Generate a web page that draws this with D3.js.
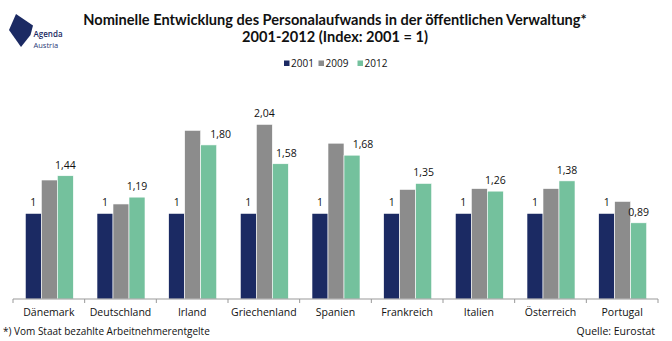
<!DOCTYPE html>
<html>
<head>
<meta charset="utf-8">
<script src="https://cdn.jsdelivr.net/npm/d3@7"></script>
<style>
  html, body { margin: 0; padding: 0; background: #fff; }
  svg { display: block; font-family: "Open Sans", sans-serif; }
</style>
</head>
<body>
<svg id="chart" width="672" height="341"></svg>
<script>
// ---- data ----
const categories = ["Dänemark", "Deutschland", "Irland", "Griechenland", "Spanien", "Frankreich", "Italien", "Österreich", "Portugal"];
const seriesNames = ["2001", "2009", "2012"];
const values2001 = [1, 1, 1, 1, 1, 1, 1, 1, 1];
const values2009 = [1.39, 1.11, 1.97, 2.04, 1.82, 1.28, 1.29, 1.29, 1.14];
const values2012 = [1.44, 1.19, 1.80, 1.58, 1.68, 1.35, 1.26, 1.38, 0.89];
// which values carry a data label (as in the original)
const label2001 = [true, true, true, true, true, true, true, true, true];
const label2009 = [false, false, false, true, false, false, false, false, false];
const label2012 = [true, true, true, true, true, true, true, true, true];

// ---- style ----
const colors = ["#1b2a63", "#8c8c8c", "#74c19d"];
const labelNudge = { "Irland|2012": 12, "Griechenland|2012": 6, "Spanien|2012": 11 };

const svg = d3.select("#chart");
const W = 672, H = 341;
const margin = { left: 13, right: 14 };
const baseY = 299;

const x0 = d3.scaleBand().domain(categories).range([margin.left, W - margin.right]).paddingInner(0).paddingOuter(0);
const groupW = 48;
const x1 = d3.scaleBand().domain(seriesNames).range([0, groupW]).padding(0);
const y = d3.scaleLinear().domain([0, 1]).range([baseY, 213.4]);

const seriesVals = [values2001, values2009, values2012];
const seriesLabels = [label2001, label2009, label2012];
const rows = [];
categories.forEach((c, i) => {
  seriesNames.forEach((s, j) => {
    rows.push({ cat: c, series: s, j, value: seriesVals[j][i], label: seriesLabels[j][i] });
  });
});

// ---- logo ----
const logo = svg.append("g");
logo.append("path")
  .attr("d", "M16,14 L33,25.5 L30.5,35 L21,47 L9,30 Z")
  .attr("fill", "#1b2a63");
logo.append("text").attr("x", 33.5).attr("y", 37).attr("font-size", 8).attr("font-weight", 600).attr("fill", "#1b2a63").text("Agenda");
logo.append("text").attr("x", 33.5).attr("y", 47.5).attr("font-size", 7.5).attr("fill", "#2a3a78").text("Austria");

// ---- title ----
svg.append("text").attr("x", 335).attr("y", 24.5).attr("text-anchor", "middle")
  .attr("font-family", "Lato, sans-serif")
  .attr("font-size", 14.6).attr("font-weight", 700).attr("fill", "#111")
  .text("Nominelle Entwicklung des Personalaufwands in der öffentlichen Verwaltung*");
svg.append("text").attr("x", 335).attr("y", 42.3).attr("text-anchor", "middle")
  .attr("font-family", "Lato, sans-serif")
  .attr("font-size", 14.6).attr("font-weight", 700).attr("fill", "#111")
  .text("2001-2012 (Index: 2001 = 1)");

// ---- legend ----
const legendX = [284, 318.5, 357.5];
const legend = svg.append("g");
seriesNames.forEach((s, j) => {
  legend.append("rect").attr("x", legendX[j]).attr("y", 60.5).attr("width", 5.5).attr("height", 5.5).attr("fill", colors[j]);
  legend.append("text").attr("x", legendX[j] + 7).attr("y", 66.5).attr("font-size", 10).attr("fill", "#111").text(s);
});

// ---- bars ----
const groupOffset = (x0.bandwidth() - groupW) / 2 + 0.5;
svg.append("g").selectAll("rect").data(rows).join("rect")
  .attr("x", d => x0(d.cat) + groupOffset + x1(d.series))
  .attr("y", d => y(d.value))
  .attr("width", x1.bandwidth())
  .attr("height", d => baseY - y(d.value))
  .attr("fill", d => colors[d.j])
  .attr("stroke", "#ffffff").attr("stroke-width", 0.6);

// ---- data labels ----
const fmt = v => v === 1 ? "1" : d3.format(".2f")(v).replace(".", ",");
svg.append("g").selectAll("text").data(rows.filter(d => d.label)).join("text")
  .attr("x", d => x0(d.cat) + groupOffset + x1(d.series) + x1.bandwidth() / 2 + (labelNudge[d.cat + "|" + d.series] || 0))
  .attr("y", d => y(d.value) - 7)
  .attr("text-anchor", "middle")
  .attr("font-size", 10.5).attr("fill", "#111")
  .text(d => fmt(d.value));

// ---- x axis ----
const axis = svg.append("g").attr("transform", `translate(0,${baseY})`);
axis.append("line").attr("x1", margin.left).attr("x2", W - margin.right).attr("stroke", "#999").attr("stroke-width", 1);
const tickPos = categories.map(c => x0(c)).concat([x0(categories[categories.length - 1]) + x0.bandwidth()]);
axis.selectAll("line.tick").data(tickPos).join("line").attr("class", "tick")
  .attr("x1", d => d).attr("x2", d => d).attr("y1", 0).attr("y2", 4)
  .attr("stroke", "#999");
axis.selectAll("text").data(categories).join("text")
  .attr("x", c => x0(c) + x0.bandwidth() / 2)
  .attr("y", 17)
  .attr("text-anchor", "middle").attr("font-size", 10.5).attr("fill", "#111")
  .text(c => c);

// ---- footnotes ----
svg.append("text").attr("x", 3).attr("y", 335).attr("font-size", 10).attr("fill", "#111")
  .text("*) Vom Staat bezahlte Arbeitnehmerentgelte");
svg.append("text").attr("x", 655).attr("y", 335).attr("text-anchor", "end").attr("font-size", 10.5).attr("fill", "#111")
  .text("Quelle: Eurostat");
</script>
</body>
</html>
